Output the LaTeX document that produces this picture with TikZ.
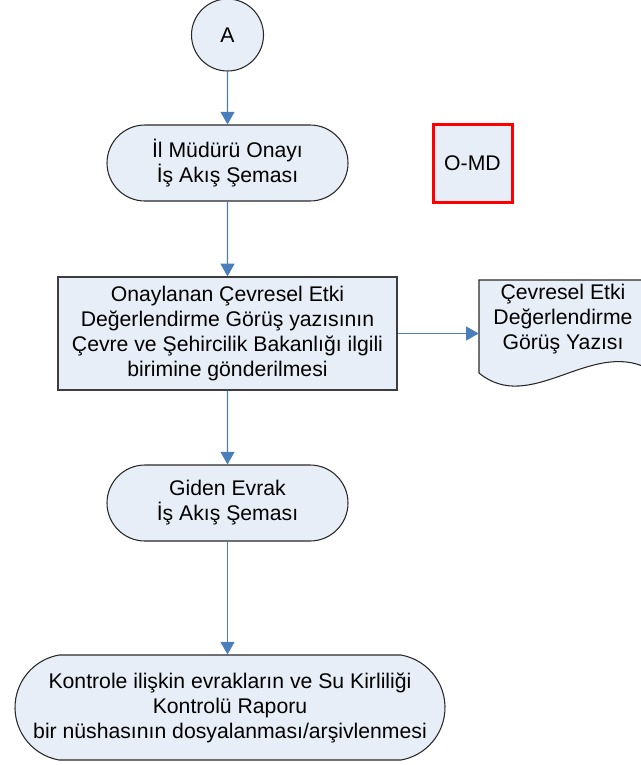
\documentclass[tikz,border=0pt]{standalone}
\usepackage{fontspec}
\setmainfont{Liberation Sans}
\usetikzlibrary{arrows.meta,shapes.misc}
\definecolor{fillblue}{RGB}{232,238,247}
\definecolor{arrowblue}{RGB}{74,126,187}
\definecolor{edgegray}{RGB}{40,40,40}
\begin{document}
\begin{tikzpicture}[x=0.75pt,y=-0.75pt,
  txt/.style={font=\fontsize{15.9}{18.75}\selectfont, align=center, inner sep=0pt, text=black},
  outline/.style={draw=edgegray, line width=0.8pt, fill=fillblue},
  termbox/.style={rounded rectangle, rounded rectangle arc length=180, outline, txt},
  procbox/.style={rectangle, draw=edgegray!90!white, line width=0.95pt, fill=fillblue, txt},
  flow/.style={draw=arrowblue, line width=0.8pt, -{Triangle[length=9.5pt,width=10.5pt]}}
]
\useasboundingbox (0,0) rectangle (641,765);
\clip (0,0) rectangle (641,765);

% start connector circle
\node[circle, outline, txt, minimum size=54pt] (A) at (227.5,35) {A};

% terminals
\node[termbox, minimum width=180.75pt, minimum height=57pt] (t1) at (227.5,163)
  {İl Müdürü Onayı\\İş Akış Şeması};
\node[termbox, minimum width=180.75pt, minimum height=57pt] (t2) at (227.5,503)
  {Giden Evrak\\İş Akış Şeması};
\node[termbox, rounded rectangle arc length=160, minimum width=322.5pt, minimum height=78.75pt] (t3) at (230,707.5)
  {Kontrole ilişkin evrakların ve Su Kirliliği\\Kontrolü Raporu\\bir nüshasının dosyalanması/arşivlenmesi};

% process box
\node[procbox, minimum width=254.25pt, minimum height=84.75pt] (p1) at (227.5,333.5)
  {Onaylanan Çevresel Etki\\Değerlendirme Görüş yazısının\\Çevre ve Şehircilik Bakanlığı ilgili\\birimine gönderilmesi};

% code box
\node[rectangle, draw=red, line width=2.25pt, fill=fillblue, txt, minimum width=59.25pt, minimum height=58.5pt] (omd) at (472.5,163) {O-MD};

% document shape
\path[outline] (479,280) -- (647,280) -- (647,368)
  .. controls (590,340) and (530,415) .. (479,373) -- cycle;
\node[txt, minimum width=126pt, minimum height=60pt] (doc) at (563,319)
  {Çevresel Etki\\Değerlendirme\\Görüş Yazısı};

% connectors
\draw[flow] (A) -- (t1);
\draw[flow] (t1) -- (p1);
\draw[flow] (p1) -- (t2);
\draw[flow] (t2.south) -- (t2.south |- t3.north);
\draw[flow] (p1.east) -- (p1.east -| doc.west);
\end{tikzpicture}
\end{document}
